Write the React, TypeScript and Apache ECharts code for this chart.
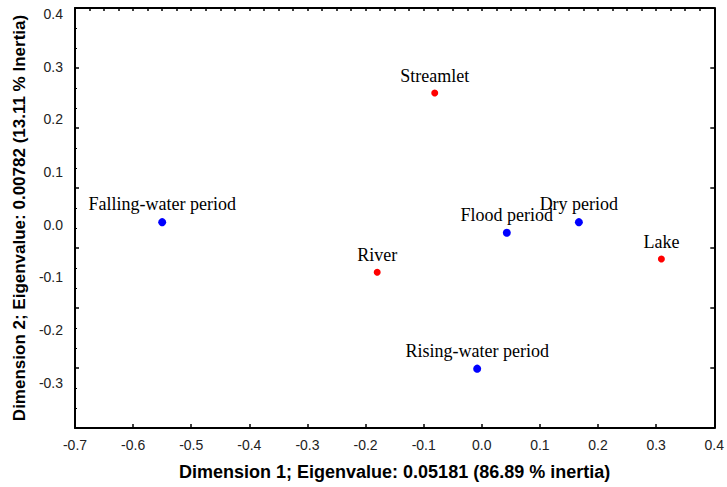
import React, { useEffect, useRef } from "react";
import * as echarts from "echarts";

// Row points (habitats)
const rowCategories = ["Streamlet", "River", "Lake"];
const rowDim1 = [-0.081, -0.18, 0.309];
const rowDim2 = [0.25, -0.09, -0.065];

// Column points (hydrological periods)
const colCategories = ["Falling-water period", "Flood period", "Dry period", "Rising-water period"];
const colDim1 = [-0.55, 0.043, 0.167, -0.008];
const colDim2 = [0.005, -0.015, 0.005, -0.273];

// Axis settings
const xMin = -0.7;
const xMax = 0.4;
const frameYMin = -0.3;
const frameYMax = 0.4;
const labelYMin = -0.3856;
const labelYMax = 0.4114;

const xName = "Dimension 1; Eigenvalue: 0.05181 (86.89 % inertia)";
const yName = "Dimension 2; Eigenvalue: 0.00782 (13.11 % Inertia)";

const fmt = (v: number) => {
  const r = Math.round(v * 10);
  if (Math.abs(v * 10 - r) > 1e-6) return "";
  const s = (r / 10).toFixed(1);
  return s === "-0.0" ? "0.0" : s;
};

export default function App() {
  const ref = useRef<HTMLDivElement>(null);
  useEffect(() => {
    if (!ref.current) return;
    const chart = echarts.init(ref.current, undefined, { renderer: "svg" });
    const labelStyle = {
      show: true,
      position: "top" as const,
      distance: 5,
      formatter: "{b}",
      fontFamily: "Liberation Serif",
      fontSize: 18,
      color: "#000",
    };
    const frameLine = { show: true, onZero: false, lineStyle: { color: "#000", width: 2 } };
    chart.setOption({
      animation: false,
      backgroundColor: "#fff",
      grid: { left: 75, right: 12, top: 8, bottom: 59 },
      xAxis: [
        {
          type: "value",
          position: "bottom",
          min: xMin,
          max: xMax,
          interval: 0.1,
          axisLine: frameLine,
          axisTick: { show: true, inside: true, length: 4, lineStyle: { color: "#000", width: 1.5 } },
          splitLine: { show: false },
          axisLabel: {
            formatter: fmt,
            fontFamily: "Liberation Sans",
            fontSize: 14,
            color: "#222",
            margin: 10,
          },
          name: xName,
          nameLocation: "middle",
          nameGap: 35,
          nameTextStyle: {
            fontFamily: "Liberation Sans",
            fontWeight: "bold",
            fontSize: 18,
            color: "#000",
          },
        },
        {
          type: "value",
          position: "top",
          min: xMin,
          max: xMax,
          interval: 0.1,
          axisLine: frameLine,
          axisTick: { show: true, inside: true, length: 3, lineStyle: { color: "#000", width: 1.5 } },
          minorTick: { show: true, splitNumber: 4, length: 3, lineStyle: { color: "#000", width: 1.5 } },
          splitLine: { show: false },
          axisLabel: { show: false },
        },
      ],
      yAxis: [
        {
          type: "value",
          position: "left",
          min: labelYMin,
          max: labelYMax,
          splitNumber: 8,
          minInterval: 0.1,
          maxInterval: 0.1,
          axisLine: { show: false, onZero: false },
          axisTick: { show: false },
          splitLine: { show: false },
          axisLabel: {
            formatter: fmt,
            fontFamily: "Liberation Sans",
            fontSize: 14,
            color: "#222",
            margin: 12,
            showMinLabel: false,
          },
          name: yName,
          nameLocation: "middle",
          nameGap: 47,
          nameTextStyle: {
            fontFamily: "Liberation Sans",
            fontWeight: "bold",
            fontSize: 17,
            color: "#000",
          },
        },
        {
          type: "value",
          position: "left",
          min: frameYMin,
          max: frameYMax,
          interval: 0.1,
          axisLine: frameLine,
          axisTick: { show: true, inside: true, length: 4, lineStyle: { color: "#000", width: 1.5 } },
          minorTick: { show: true, splitNumber: 3, length: 2, lineStyle: { color: "#000", width: 1 } },
          splitLine: { show: false },
          axisLabel: { show: false },
        },
        {
          type: "value",
          position: "right",
          min: frameYMin,
          max: frameYMax,
          interval: 0.1,
          axisLine: frameLine,
          axisTick: { show: true, inside: true, length: 4, lineStyle: { color: "#000", width: 1.5 } },
          splitLine: { show: false },
          axisLabel: { show: false },
        },
      ],
      series: [
        {
          name: "Habitats",
          type: "scatter",
          xAxisIndex: 0,
          yAxisIndex: 0,
          symbolSize: 7,
          itemStyle: { color: "#ff0000", opacity: 1 },
          label: labelStyle,
          data: rowCategories.map((n, i) => ({ name: n, value: [rowDim1[i], rowDim2[i]] })),
        },
        {
          name: "Periods",
          type: "scatter",
          xAxisIndex: 0,
          yAxisIndex: 0,
          symbolSize: 8,
          itemStyle: { color: "#0000ff", opacity: 1 },
          label: labelStyle,
          data: colCategories.map((n, i) => ({ name: n, value: [colDim1[i], colDim2[i]] })),
        },
      ],
    });
    return () => chart.dispose();
  }, []);
  return (
    <div
      ref={ref}
      style={{ position: "absolute", left: 0, top: 0, width: 727, height: 487, background: "#fff" }}
    />
  );
}
